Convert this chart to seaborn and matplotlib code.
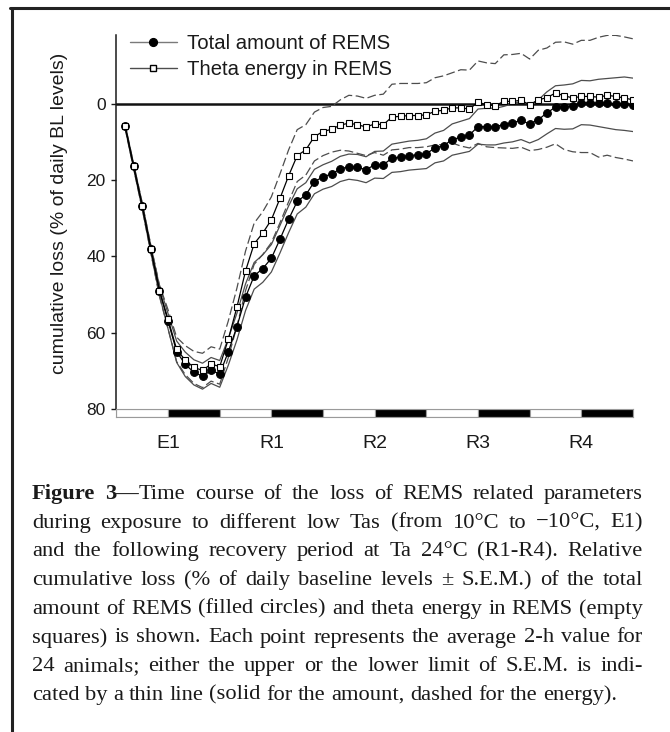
import numpy as np
import pandas as pd
import matplotlib
matplotlib.use("Agg")
import matplotlib.pyplot as plt
from matplotlib.lines import Line2D
import seaborn as sns

# 2-h bins over 5 days (E1 exposure day, then recovery R1-R4)
bins = list(range(1, 61))

# total amount of REMS (filled circles), cumulative loss in % of daily BL
amount = [5.8, 16.4, 26.8, 38.1, 49.0, 57.0, 65.0, 68.3, 70.4, 71.4,
          69.9, 70.8, 65.0, 58.4, 50.7, 45.1, 43.2, 40.5, 35.5, 30.3,
          25.6, 23.9, 20.4, 19.2, 18.4, 17.1, 16.5, 16.7, 17.3, 16.0,
          16.0, 14.3, 14.0, 13.6, 13.4, 13.1, 11.6, 11.0, 9.4, 8.8,
          8.2, 6.0, 6.0, 6.0, 5.5, 5.0, 4.4, 5.3, 4.2, 2.4,
          0.9, 0.9, 0.7, -0.3, -0.2, -0.2, -0.1, 0.0, 0.0, 0.3]
amount_sem = [0.5, 0.6, 0.7, 0.9, 1.2, 2.0, 2.8, 3.2, 3.3, 3.4,
              3.4, 3.5, 3.5, 3.5, 3.5, 3.5, 3.6, 3.6, 3.6, 3.5,
              3.3, 3.2, 3.2, 3.2, 3.3, 3.3, 3.3, 3.4, 3.4, 3.5,
              3.6, 3.7, 3.8, 3.8, 3.8, 3.9, 3.9, 4.0, 4.1, 4.2,
              4.3, 4.6, 4.8, 4.8, 4.8, 5.0, 5.0, 5.0, 5.2, 5.5,
              5.6, 5.8, 5.9, 5.8, 5.8, 6.2, 6.5, 6.8, 7.0, 7.0]

# theta energy in REMS (empty squares)
theta = [5.8, 16.4, 26.8, 38.1, 49.0, 56.5, 64.4, 67.2, 69.1, 69.9,
         68.2, 68.9, 61.7, 53.3, 43.8, 36.7, 33.9, 30.4, 24.8, 18.9,
         13.6, 12.1, 8.6, 7.3, 6.7, 5.6, 5.1, 5.5, 6.1, 5.3,
         5.5, 3.5, 3.3, 3.1, 3.1, 2.9, 2.0, 1.7, 1.1, 1.1,
         1.4, -0.4, 0.3, 0.5, -0.6, -0.6, -0.9, 0.3, -1.0, -1.6,
         -2.8, -2.1, -1.5, -1.9, -1.9, -1.7, -2.2, -1.9, -1.5, -1.0]
theta_sem = [0.5, 0.6, 0.8, 1.0, 1.5, 2.5, 3.2, 3.8, 4.2, 4.5,
             4.5, 4.6, 4.8, 5.0, 5.2, 5.4, 5.6, 6.0, 6.4, 6.8,
             6.8, 6.6, 6.4, 6.3, 6.0, 6.6, 7.3, 7.5, 7.5, 7.5,
             8.0, 8.6, 8.6, 8.4, 8.4, 8.4, 8.8, 9.0, 9.2, 10.0,
             10.2, 10.8, 11.0, 11.0, 12.2, 12.3, 12.3, 12.0, 13.0, 13.0,
             13.3, 14.1, 14.1, 14.7, 14.7, 15.7, 15.7, 16.0, 16.0, 16.0]

# 12-h light / dark periods and day labels
light_dark = ["L", "D"] * 5
period_len = 6
day_labels = ["E1", "R1", "R2", "R3", "R4"]
day_pos = [6, 18, 30, 42, 54]

legend_labels = ["Total amount of REMS", "Theta energy in REMS"]
y_label = "cumulative loss (% of daily BL levels)"

caption_bold = "Figure 3\u2014"
caption_lines = [
    "Figure 3\u2014Time course of the loss of REMS related parameters",
    "during exposure to different low Tas (from 10\u00b0C to \u221210\u00b0C, E1)",
    "and the following recovery period at Ta 24\u00b0C (R1-R4). Relative",
    "cumulative loss (% of daily baseline levels \u00b1 S.E.M.) of the total",
    "amount of REMS (filled circles) and theta energy in REMS (empty",
    "squares) is shown. Each point represents the average 2-h value for",
    "24 animals; either the upper or the lower limit of S.E.M. is indi-",
    "cated by a thin line (solid for the amount, dashed for the energy).",
]

df = pd.DataFrame({"bin": bins, "amount": amount, "amount_sem": amount_sem,
                   "theta": theta, "theta_sem": theta_sem})
df["amount_lo"] = df["amount"] - df["amount_sem"]
df["amount_hi"] = df["amount"] + df["amount_sem"]
df["theta_lo"] = df["theta"] - df["theta_sem"]
df["theta_hi"] = df["theta"] + df["theta_sem"]

sns.set_style("white")
plt.rcParams["font.family"] = ["Liberation Sans", "DejaVu Sans"]

W, H = 670, 732
fig = plt.figure(figsize=(W / 100, H / 100), dpi=100)
fx = lambda px: px / W
fy = lambda py: 1 - py / H

x0, x1 = 116.4, 633.0
ax = fig.add_axes([fx(x0), fy(409), (x1 - x0) / W, (409 - 35) / H])

# SEM limits: solid for amount, dashed for energy
for col in ["amount_lo", "amount_hi"]:
    sns.lineplot(data=df, x="bin", y=col, ax=ax, color="#4d4d4d", lw=0.9)
for col in ["theta_lo", "theta_hi"]:
    sns.lineplot(data=df, x="bin", y=col, ax=ax, color="#4d4d4d", lw=0.9,
                 linestyle=(0, (7, 2.8)))

ax.axhline(0, color="#111111", lw=1.8, zorder=1)

sns.lineplot(data=df, x="bin", y="amount", ax=ax, color="black", lw=0.9,
             marker="o", markersize=5.6, markerfacecolor="black",
             markeredgecolor="black", zorder=3)
sns.lineplot(data=df, x="bin", y="theta", ax=ax, color="black", lw=0.9,
             marker="s", markersize=5.0, markerfacecolor="white",
             markeredgecolor="black", markeredgewidth=0.8, zorder=4)

ax.set_xlim(0, 60)
ax.set_ylim(80, -18)
ax.set_xticks([])
ax.set_xlabel("")
ax.set_yticks([0, 20, 40, 60, 80])
ax.tick_params(axis="y", length=3.6, width=1, pad=4, labelsize=12.5,
               colors="#1a1a1a", left=True)
for s in ["top", "right", "bottom"]:
    ax.spines[s].set_visible(False)
ax.spines["left"].set_color("#1a1a1a")
ax.spines["left"].set_linewidth(1.1)
ax.set_ylabel(y_label, fontsize=14, color="#1a1a1a")
ax.yaxis.set_label_coords((68 - x0) / (x1 - x0), 0.524)

handles = [
    Line2D([], [], color="#7a7a7a", lw=1, marker="o", markersize=5.6,
           markerfacecolor="black", markeredgecolor="black"),
    Line2D([], [], color="#4d4d4d", lw=1, marker="s", markersize=5.0,
           markerfacecolor="white", markeredgecolor="black"),
]
fig.legend(handles, legend_labels, loc="upper left",
           bbox_to_anchor=(fx(130), fy(34)), bbox_transform=fig.transFigure,
           frameon=False, fontsize=14.6, handlelength=2.3, handletextpad=0.5,
           labelspacing=0.35, borderpad=0, borderaxespad=0,
           labelcolor="#1a1a1a")

# light / dark bar under the axis
axb = fig.add_axes([fx(x0), fy(417), (x1 - x0) / W, 8 / H])
starts = [k * period_len for k in range(len(light_dark))]
bar_colors = ["white" if p == "L" else "black" for p in light_dark]
axb.bar(starts, 1, width=period_len, align="edge", color=bar_colors,
        edgecolor="#9a9a9a", linewidth=0.8)
axb.set_xlim(0, 60)
axb.set_ylim(0, 1)
axb.set_yticks([])
axb.set_xticks(day_pos)
axb.set_xticklabels(day_labels)
axb.tick_params(axis="x", length=0, pad=13, labelsize=14, colors="#1a1a1a")
for s in axb.spines.values():
    s.set_color("#9a9a9a")
    s.set_linewidth(0.8)

# page frame lines
fig.add_artist(Line2D([fx(10), 1], [fy(8), fy(8)], transform=fig.transFigure,
                      color="#222222", lw=2.2))
fig.add_artist(Line2D([fx(11.5), fx(11.5)], [0, fy(8)],
                      transform=fig.transFigure, color="#222222", lw=2.2))

# justified caption
renderer = fig.canvas.get_renderer()
cap_kw = dict(fontsize=16.2, family=["Liberation Serif", "DejaVu Serif"],
              color="#1a1a1a")


def piece_width(s, weight):
    t = fig.text(0, 0, s, weight=weight, **cap_kw)
    w = t.get_window_extent(renderer=renderer).width
    t.remove()
    return w


space_w = piece_width("a a", "normal") - piece_width("aa", "normal")
cx0, cx1 = 32, 643
base0, step = 499, 28.7
bold_left = len(caption_bold)
for k, line in enumerate(caption_lines):
    words = line.split(" ")
    word_pieces = []
    for w in words:
        if bold_left > 0:
            nb = min(bold_left, len(w))
            pcs = [(w[:nb], "bold")]
            if w[nb:]:
                pcs.append((w[nb:], "normal"))
            bold_left -= nb + 1
        else:
            pcs = [(w, "normal")]
        word_pieces.append([(s, wt, piece_width(s, wt)) for s, wt in pcs])
    total = sum(p[2] for pcs in word_pieces for p in pcs)
    last = k == len(caption_lines) - 1
    gap = space_w if last else (cx1 - cx0 - total) / (len(words) - 1)
    gap = max(gap, 0.6 * space_w)
    x = cx0
    yb = base0 + k * step
    for pcs in word_pieces:
        for s, wt, wd in pcs:
            fig.text(fx(x), fy(yb), s, weight=wt, ha="left", va="baseline",
                     **cap_kw)
            x += wd
        x += gap

fig.savefig("out.png", dpi=100)
